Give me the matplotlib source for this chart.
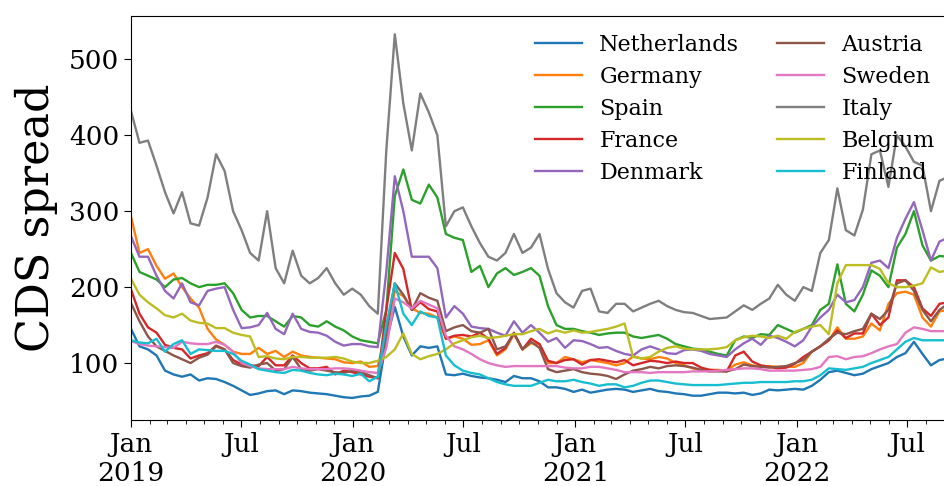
import matplotlib
matplotlib.use("Agg")
import matplotlib.pyplot as plt
import matplotlib.dates as mdates
import pandas as pd

plt.rcParams['font.family'] = 'DejaVu Serif'

# biweekly dates, Jan 2019 - Sep 2022
dates = pd.date_range('2019-01-01', periods=97, freq='14D')

netherlands = [145, 122, 118, 110, 90, 85, 82, 85, 77, 80, 79, 75, 70, 64, 58, 60, 63, 64, 59, 64,
               63, 61, 60, 59, 57, 55, 54, 56, 57, 62, 130, 174, 135, 110, 122, 120, 122, 85, 84, 86,
               83, 81, 80, 78, 75, 83, 80, 80, 76, 68, 68, 66, 62, 65, 61, 63, 65, 66, 65, 62,
               64, 66, 63, 62, 60, 59, 57, 57, 59, 61, 61, 60, 61, 58, 60, 65, 64, 65, 66, 65,
               70, 78, 88, 90, 87, 84, 86, 92, 96, 100, 108, 113, 128, 112, 97, 104, 106]
germany = [293, 245, 250, 228, 211, 218, 200, 185, 173, 145, 131, 124, 115, 112, 112, 120, 112, 116, 108, 115,
           110, 108, 107, 106, 105, 101, 100, 102, 95, 96, 140, 195, 188, 172, 166, 165, 160, 132, 135, 132,
           124, 125, 130, 110, 118, 138, 118, 126, 125, 100, 100, 108, 105, 101, 104, 102, 100, 97, 100, 109,
           106, 105, 108, 106, 100, 97, 93, 91, 91, 91, 90, 98, 101, 97, 95, 96, 95, 95, 95, 100,
           115, 122, 130, 147, 132, 132, 135, 152, 143, 178, 192, 194, 190, 160, 148, 168, 170]
spain = [245, 220, 215, 210, 200, 210, 212, 205, 200, 203, 203, 205, 192, 170, 160, 162, 162, 155, 148, 162,
         160, 150, 148, 155, 148, 143, 135, 130, 128, 126, 170, 320, 355, 315, 310, 335, 318, 270, 265, 262,
         220, 228, 200, 218, 225, 216, 220, 225, 215, 175, 150, 145, 145, 142, 140, 137, 139, 140, 140, 135,
         133, 135, 137, 132, 125, 122, 119, 118, 115, 112, 110, 130, 135, 133, 138, 137, 150, 145, 140, 145,
         150, 170, 178, 230, 178, 168, 190, 222, 215, 200, 252, 270, 300, 255, 235, 241, 240]
france = [197, 165, 147, 140, 124, 120, 118, 106, 110, 113, 123, 118, 104, 98, 97, 96, 108, 97, 97, 110,
          100, 93, 93, 95, 85, 90, 88, 85, 82, 80, 170, 245, 224, 170, 180, 171, 168, 132, 136, 137,
          135, 140, 132, 112, 120, 140, 118, 132, 125, 103, 100, 104, 105, 98, 104, 105, 103, 101, 104, 97,
          100, 103, 102, 100, 102, 100, 100, 94, 91, 90, 89, 110, 115, 102, 97, 95, 93, 94, 99, 108,
          115, 122, 130, 143, 133, 139, 139, 165, 150, 160, 209, 209, 200, 172, 162, 178, 180]
denmark = [267, 240, 240, 215, 195, 185, 205, 180, 176, 195, 198, 200, 170, 146, 147, 150, 166, 145, 138, 165,
           145, 141, 140, 136, 128, 123, 125, 125, 122, 121, 220, 346, 300, 240, 240, 240, 225, 160, 175, 165,
           148, 146, 145, 140, 136, 155, 140, 150, 140, 128, 133, 120, 130, 129, 125, 120, 121, 116, 112, 110,
           118, 122, 118, 113, 112, 117, 118, 116, 112, 110, 108, 118, 126, 132, 124, 136, 133, 128, 122, 130,
           148, 160, 170, 190, 180, 183, 200, 232, 235, 225, 265, 290, 312, 275, 235, 260, 265]
austria = [179, 155, 135, 122, 116, 110, 105, 100, 107, 111, 122, 118, 100, 96, 94, 98, 100, 90, 92, 108,
           92, 90, 92, 90, 88, 87, 90, 88, 84, 80, 140, 205, 190, 170, 192, 186, 182, 142, 147, 150,
           142, 140, 145, 118, 122, 139, 118, 128, 120, 92, 88, 90, 92, 88, 86, 85, 83, 79, 85, 90,
           92, 95, 93, 96, 97, 96, 94, 91, 89, 89, 89, 92, 98, 96, 95, 94, 95, 96, 100, 104,
           115, 122, 132, 140, 138, 142, 145, 165, 158, 170, 205, 209, 195, 170, 155, 170, 178]
sweden = [129, 125, 123, 122, 121, 120, 128, 126, 125, 125, 128, 124, 115, 100, 96, 93, 92, 92, 92, 95,
          93, 92, 92, 92, 93, 93, 92, 90, 88, 87, 120, 185, 180, 172, 182, 177, 172, 136, 122, 118,
          112, 105, 100, 97, 95, 96, 96, 96, 96, 96, 96, 94, 93, 93, 95, 95, 93, 91, 88, 88,
          88, 87, 88, 88, 88, 88, 89, 89, 89, 90, 91, 92, 93, 93, 92, 90, 90, 90, 90, 91,
          92, 95, 108, 109, 105, 108, 109, 113, 118, 122, 125, 140, 147, 145, 142, 142, 142]
italy = [432, 390, 393, 360, 325, 297, 325, 284, 281, 318, 375, 353, 300, 275, 245, 235, 300, 225, 205, 248,
         215, 205, 212, 225, 205, 190, 198, 190, 175, 165, 380, 533, 442, 380, 455, 430, 400, 280, 300, 305,
         280, 258, 240, 235, 245, 270, 245, 252, 270, 224, 192, 180, 173, 195, 198, 168, 166, 178, 178, 168,
         173, 178, 182, 175, 170, 167, 166, 162, 158, 159, 160, 168, 176, 170, 178, 185, 203, 190, 182, 200,
         195, 245, 262, 330, 275, 268, 302, 375, 380, 332, 400, 385, 365, 360, 300, 340, 345]
belgium = [211, 190, 180, 172, 163, 160, 165, 156, 153, 152, 146, 146, 140, 137, 135, 108, 109, 106, 105, 108,
           108, 107, 107, 107, 108, 106, 102, 100, 100, 103, 108, 118, 139, 112, 105, 109, 112, 118, 126, 130,
           134, 136, 133, 134, 136, 138, 138, 142, 145, 139, 143, 140, 143, 140, 141, 143, 145, 148, 152, 108,
           106, 108, 115, 120, 122, 119, 118, 118, 118, 119, 121, 130, 134, 136, 135, 133, 136, 132, 141, 145,
           148, 150, 138, 205, 229, 229, 229, 229, 224, 205, 200, 200, 202, 205, 226, 220, 222]
finland = [130, 127, 126, 132, 115, 125, 130, 112, 118, 117, 116, 116, 112, 103, 98, 92, 90, 88, 87, 91,
           90, 87, 85, 84, 86, 85, 83, 86, 76, 82, 150, 205, 165, 150, 168, 162, 160, 110, 97, 90,
           87, 85, 80, 75, 72, 70, 70, 70, 74, 78, 76, 76, 78, 75, 73, 70, 72, 72, 68, 70,
           74, 77, 77, 75, 73, 72, 71, 71, 71, 71, 72, 73, 74, 74, 75, 75, 75, 75, 76, 76,
           78, 84, 93, 92, 91, 93, 95, 100, 104, 108, 118, 128, 133, 130, 130, 130, 130]

countries = ['Netherlands', 'Germany', 'Spain', 'France', 'Denmark',
             'Austria', 'Sweden', 'Italy', 'Belgium', 'Finland']
series = [netherlands, germany, spain, france, denmark,
          austria, sweden, italy, belgium, finland]

fig = plt.figure(figsize=(9.45, 4.86), dpi=100)
# axes run past the right edge of the figure (cropped look)
ax = fig.add_axes([0.1386, 0.1358, 0.880, 0.8312])

for name, vals in zip(countries, series):
    ax.plot(dates, vals, label=name, linewidth=1.7)

ax.set_xlim(pd.Timestamp('2019-01-01'), pd.Timestamp('2022-09-30'))
ax.set_ylim(25, 557)
ax.set_yticks([100, 200, 300, 400, 500])

ax.xaxis.set_major_locator(mdates.MonthLocator(bymonth=[1, 7]))
ax.xaxis.set_minor_locator(mdates.MonthLocator())


def fmt(x, pos=None):
    d = mdates.num2date(x)
    if d.month == 1:
        return 'Jan\n%d' % d.year
    return 'Jul'


ax.xaxis.set_major_formatter(plt.FuncFormatter(fmt))
ax.tick_params(axis='both', which='major', labelsize=19, length=5)
ax.tick_params(axis='x', which='minor', length=3)
ax.set_ylabel('CDS spread', fontsize=32, labelpad=8)

leg = ax.legend(ncol=2, frameon=False, fontsize=16, loc='upper left',
                bbox_to_anchor=(526 / 945, 1 - 25 / 486), bbox_transform=fig.transFigure,
                borderaxespad=0, handlelength=2.1, handletextpad=0.8, columnspacing=1.7,
                labelspacing=0.45)

fig.savefig('out.png', dpi=100)
